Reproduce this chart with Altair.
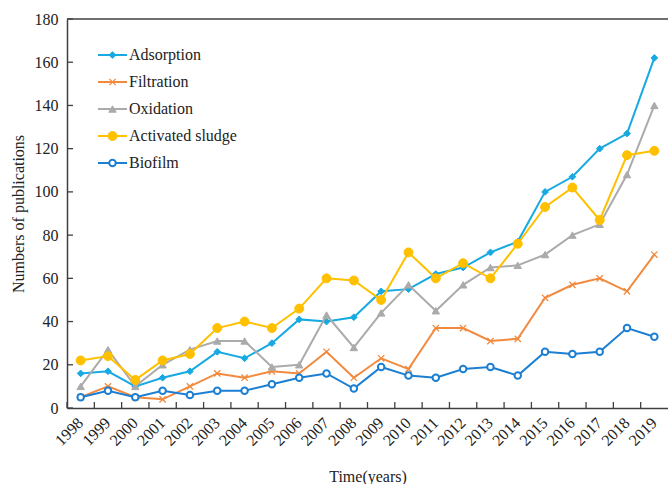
import altair as alt
import pandas as pd

# Publication counts per year for each treatment technology
years = [str(y) for y in range(1998, 2020)]
adsorption = [16, 17, 10, 14, 17, 26, 23, 30, 41, 40, 42, 54, 55, 62, 65, 72, 77, 100, 107, 120, 127, 162]
filtration = [5, 10, 5, 4, 10, 16, 14, 17, 16, 26, 14, 23, 18, 37, 37, 31, 32, 51, 57, 60, 54, 71]
oxidation = [10, 27, 10, 20, 27, 31, 31, 19, 20, 43, 28, 44, 57, 45, 57, 65, 66, 71, 80, 85, 108, 140]
activated_sludge = [22, 24, 13, 22, 25, 37, 40, 37, 46, 60, 59, 50, 72, 60, 67, 60, 76, 93, 102, 87, 117, 119]
biofilm = [5, 8, 5, 8, 6, 8, 8, 11, 14, 16, 9, 19, 15, 14, 18, 19, 15, 26, 25, 26, 37, 33]

series_names = ["Adsorption", "Filtration", "Oxidation", "Activated sludge", "Biofilm"]
series_values = [adsorption, filtration, oxidation, activated_sludge, biofilm]
y_ticks = [0, 20, 40, 60, 80, 100, 120, 140, 160, 180]

W, H = 601, 389
FONT = "Liberation Serif"
AXIS_COLOR = "#404040"
TEXT_COLOR = "#222222"

# marker style per series
styles = {
    "Adsorption": dict(color="#17A9E1", shape="diamond", size=45, filled=True, stroke_w=1),
    "Filtration": dict(color="#F28A3E", shape="M-1,-1L1,1M-1,1L1,-1", size=40, filled=False, stroke_w=1.3),
    "Oxidation": dict(color="#ABABAB", shape="triangle-up", size=55, filled=True, stroke_w=1),
    "Activated sludge": dict(color="#FFC000", shape="circle", size=80, filled=True, stroke_w=1),
    "Biofilm": dict(color="#1B7FD3", shape="circle", size=42, filled=False, stroke_w=2),
}

x_scale = alt.Scale(type="band", domain=years, paddingInner=0, paddingOuter=0)
y_scale = alt.Scale(domain=[0, 180], nice=False)

x_axis = alt.Axis(
    title="Time(years)",
    labelAngle=-45,
    labelAlign="right",
    labelBaseline="middle",
    labelPadding=12,
    tickSize=0,
    domainColor=AXIS_COLOR,
    domainWidth=1.5,
    labelFont=FONT,
    labelFontSize=16,
    labelColor=TEXT_COLOR,
    titleFont=FONT,
    titleFontSize=16,
    titleFontWeight="normal",
    titleColor=TEXT_COLOR,
    titleX=W / 2,
    titleY=68,
    titleBaseline="middle",
    titleAlign="center",
)
y_axis = alt.Axis(
    title="Numbers of publications",
    values=y_ticks,
    tickSize=0,
    grid=False,
    labelPadding=9,
    domainColor=AXIS_COLOR,
    domainWidth=1.5,
    labelFont=FONT,
    labelFontSize=16,
    labelColor=TEXT_COLOR,
    titleFont=FONT,
    titleFontSize=16,
    titleFontWeight="normal",
    titleColor=TEXT_COLOR,
    titleX=-49,
    titleY=H / 2,
    titleAngle=-90,
    titleBaseline="middle",
    titleAlign="center",
)

x_enc = alt.X("year:O", scale=x_scale, sort=years, axis=x_axis)
y_enc = alt.Y("value:Q", scale=y_scale, axis=y_axis)


def marker_props(st):
    props = dict(
        shape=st["shape"],
        size=st["size"],
        stroke=st["color"],
        strokeWidth=st["stroke_w"],
        opacity=1,
    )
    if st["filled"]:
        props.update(filled=True, fill=st["color"])
    elif st["shape"] == "circle":
        props.update(filled=True, fill="white")
    else:
        props.update(filled=False)
    return props


layers = []

# inward tick marks on both axes
tick_x = alt.Chart(pd.DataFrame({"year": years})).mark_rule(
    color=AXIS_COLOR, strokeWidth=1.3
).encode(
    x=alt.X("year:O", scale=x_scale, sort=years, bandPosition=0, axis=x_axis),
    y=alt.value(H),
    y2=alt.value(H - 6),
)
tick_y = alt.Chart(pd.DataFrame({"value": y_ticks})).mark_rule(
    color=AXIS_COLOR, strokeWidth=1.3
).encode(
    y=y_enc,
    x=alt.value(0),
    x2=alt.value(6),
)
top_border = alt.Chart(pd.DataFrame({"a": [0]})).mark_rule(
    color=AXIS_COLOR, strokeWidth=1.5
).encode(x=alt.value(0), x2=alt.value(W + 2), y=alt.value(0))
layers += [tick_x, tick_y, top_border]

for name, vals in zip(series_names, series_values):
    st = styles[name]
    df = pd.DataFrame({"year": years, "value": vals, "series": name})
    base = alt.Chart(df)
    line = base.mark_line(color=st["color"], strokeWidth=2).encode(x=x_enc, y=y_enc)
    pts = base.mark_point(**marker_props(st)).encode(x=x_enc, y=y_enc)
    layers += [line, pts]

# legend in the upper-left corner of the plot
for i, name in enumerate(series_names):
    st = styles[name]
    ly = 36 + 27 * i
    ldf = alt.Chart(pd.DataFrame({"series": [name]}))
    seg = ldf.mark_rule(color=st["color"], strokeWidth=2).encode(
        x=alt.value(31), x2=alt.value(60), y=alt.value(ly)
    )
    mk = ldf.mark_point(**marker_props(st)).encode(x=alt.value(45.5), y=alt.value(ly))
    txt = ldf.mark_text(
        align="left", baseline="middle", font=FONT, fontSize=16, color=TEXT_COLOR
    ).encode(x=alt.value(62), y=alt.value(ly), text="series:N")
    layers += [seg, mk, txt]

chart = (
    alt.layer(*layers)
    .properties(
        width=W,
        height=H,
        autosize=alt.AutoSizeParams(type="none"),
        padding={"left": 67, "top": 19, "right": 0, "bottom": 76},
        background="white",
    )
    .configure_view(stroke=None)
)

chart.save("out.html", embed_options={"renderer": "svg", "actions": False})
